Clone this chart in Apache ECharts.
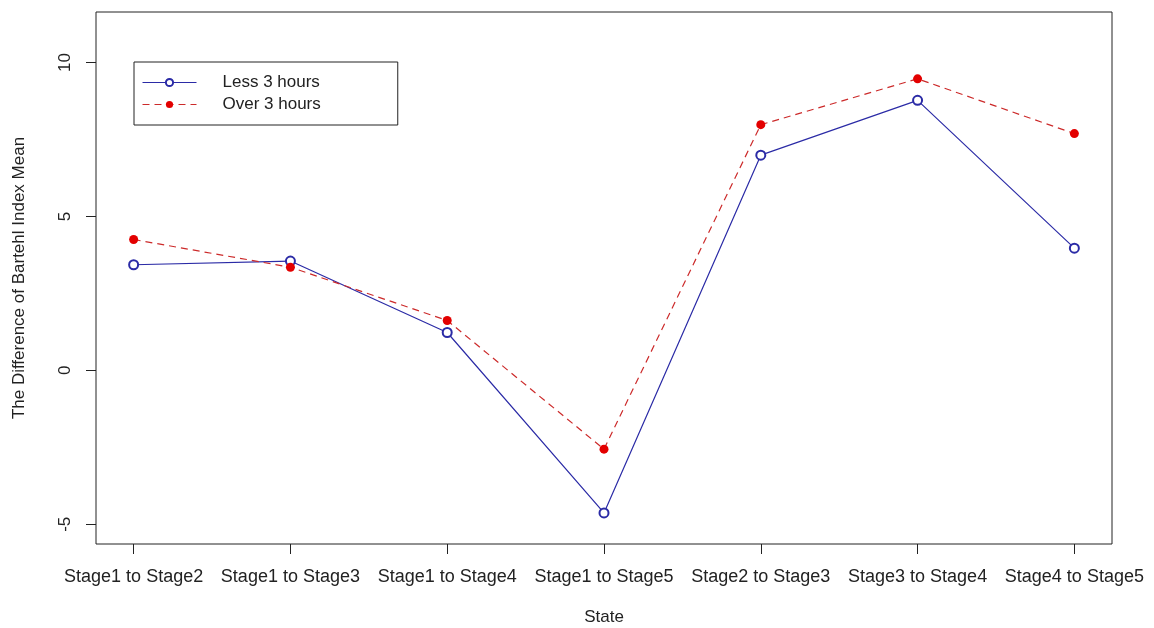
<!DOCTYPE html>
<html>
<head>
<meta charset="utf-8">
<script src="https://cdn.jsdelivr.net/npm/echarts@6/dist/echarts.min.js"></script>
<style>
html,body{margin:0;padding:0;background:#fff;}
#c{width:1154px;height:628px;}
</style>
</head>
<body>
<div id="c"></div>
<script>
const categories = ['Stage1 to Stage2','Stage1 to Stage3','Stage1 to Stage4','Stage1 to Stage5','Stage2 to Stage3','Stage3 to Stage4','Stage4 to Stage5'];
const lessThree = [3.43, 3.55, 1.23, -4.63, 6.99, 8.77, 3.97];
const overThree = [4.25, 3.35, 1.62, -2.56, 7.98, 9.47, 7.69];
const yTicks = [-5, 0, 5, 10];
const xTicks = [1, 2, 3, 4, 5, 6, 7];

const font = 'Liberation Sans, Arial, sans-serif';
const chart = echarts.init(document.getElementById('c'));
chart.setOption({
  animation: false,
  backgroundColor: '#ffffff',
  grid: {left: 96, right: 1154-1112, top: 12, bottom: 628-544, outerBoundsMode: 'none', containLabel: false,
    show: true, borderColor: '#222', borderWidth: 1, backgroundColor: 'transparent'},
  legend: {
    orient: 'vertical', left: 134, top: 62,
    data: ['Less 3 hours', 'Over 3 hours'],
    itemWidth: 54, itemHeight: 9, itemGap: 5,
    padding: [12, 77, 12, 8],
    borderColor: '#222', borderWidth: 1, borderRadius: 0,
    lineStyle: {width: 1},
    textStyle: {fontFamily: font, fontSize: 17, color: '#222', padding: [0, 0, 0, 21]}
  },
  xAxis: {
    type: 'value', min: 0.76, max: 7.24,
    name: 'State', nameLocation: 'middle', nameGap: 65,
    nameTextStyle: {fontFamily: font, fontSize: 17, color: '#222'},
    axisLine: {show: false, onZero: false},
    splitLine: {show: false},
    axisTick: {show: true, length: 10, customValues: xTicks, lineStyle: {color: '#222'}},
    axisLabel: {customValues: xTicks, margin: 24, fontFamily: font, fontSize: 18, color: '#222',
      formatter: v => categories[Math.round(v) - 1]}
  },
  yAxis: {
    type: 'value', min: -5.64, max: 11.64,
    name: 'The Difference of Bartehl Index Mean', nameLocation: 'middle', nameGap: 68,
    nameTextStyle: {fontFamily: font, fontSize: 17, color: '#222'},
    axisLine: {show: false, onZero: false},
    splitLine: {show: false},
    axisTick: {show: true, length: 10, customValues: yTicks, lineStyle: {color: '#222'}},
    axisLabel: {customValues: yTicks, rotate: 90, margin: 22, fontFamily: font, fontSize: 17, color: '#222'}
  },
  series: [
    {
      name: 'Less 3 hours', type: 'line',
      data: lessThree.map((v, i) => [i + 1, v]),
      symbol: 'emptyCircle', symbolSize: 9,
      lineStyle: {color: '#2b2ba6', width: 1.2},
      itemStyle: {color: '#2b2ba6', borderColor: '#2b2ba6', borderWidth: 1.3}
    },
    {
      name: 'Over 3 hours', type: 'line',
      data: overThree.map((v, i) => [i + 1, v]),
      symbol: 'circle', symbolSize: 9,
      lineStyle: {color: '#cc2a2a', width: 1.2, type: [7, 5]},
      itemStyle: {color: '#e30000'}
    }
  ]
});
</script>
</body>
</html>
